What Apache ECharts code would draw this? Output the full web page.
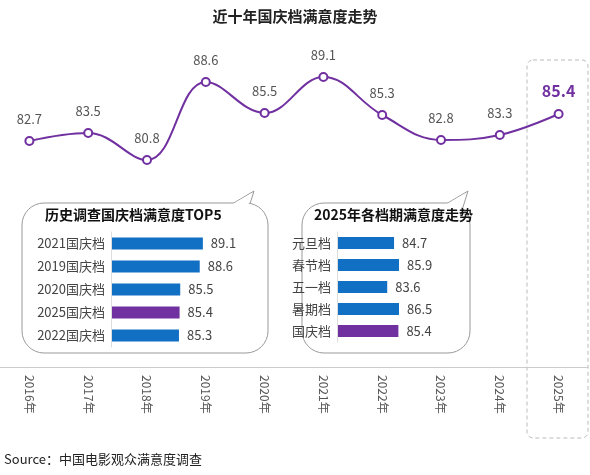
<!DOCTYPE html><html><head><meta charset="utf-8"><script src="https://cdn.jsdelivr.net/npm/echarts@6/dist/echarts.min.js"></script></head><body style="margin:0"><div id="c" style="width:590px;height:475px"></div><script>
const years=['2016年','2017年','2018年','2019年','2020年','2021年','2022年','2023年','2024年','2025年'];
const scores=[82.7,83.5,80.8,88.6,85.5,89.1,85.3,82.8,83.3,85.4];
const topCats=['2021国庆档','2019国庆档','2020国庆档','2025国庆档','2022国庆档'];
const topVals=[89.1,88.6,85.5,85.4,85.3];
const periodCats=['元旦档','春节档','五一档','暑期档','国庆档'];
const periodVals=[84.7,85.9,83.6,86.5,85.4];
const B='#1170c4',P='#7030a0';
const F='"Microsoft YaHei","Noto Sans CJK SC",sans-serif';
const ch=echarts.init(document.getElementById('c'));
function bubble(x,y,w,h,tx){return [
{type:'rect',shape:{x:x,y:y,width:w,height:h,r:22},style:{fill:'#fff',stroke:'#999',lineWidth:1},z:-8},
{type:'polygon',shape:{points:[[tx-14,y+1],[tx+8,y-12],[tx-2,y+20]]},style:{fill:'#fff',stroke:'#999'},z:-9},
{type:'polygon',shape:{points:[[tx-15,y+2],[tx+6,y-10],[tx-3,y+19],[tx-15,y+19]]},style:{fill:'#fff'},z:-7}];}
ch.setOption({
animation:false,
title:{text:'近十年国庆档满意度走势',left:'center',top:4,textStyle:{fontSize:15,fontWeight:'bold',color:'#222',fontFamily:F}},
graphic:[...bubble(22,203,246,150,246),...bubble(302,203,168,150,460),
{type:'rect',shape:{x:527,y:60,width:61,height:378,r:6},style:{fill:'none',stroke:'#bbb',lineDash:[4,3]},z:-10},
{type:'text',left:45,top:208,style:{text:'历史调查国庆档满意度TOP5',font:'bold 14px '+F,fill:'#111'},z:5},
{type:'text',left:314,top:208,style:{text:'2025年各档期满意度走势',font:'bold 14px '+F,fill:'#111'},z:5},
{type:'text',left:4,top:453,style:{text:'Source：中国电影观众满意度调查',font:'13px '+F,fill:'#222'}}],
grid:[{left:0,right:2,top:40,height:327},
{left:111,top:232,height:115,width:129},
{left:337,top:232,height:110,width:62}],
xAxis:[{type:'category',data:years,gridIndex:0,axisLine:{lineStyle:{color:'#ccc'}},axisTick:{show:false},axisLabel:{rotate:-90,color:'#555',fontSize:12,margin:8,fontFamily:F}},
{type:'value',gridIndex:1,min:74.5,max:95,show:false},
{type:'value',gridIndex:2,min:75.5,max:85.5,show:false}],
yAxis:[{type:'value',gridIndex:0,min:60.1,max:92.8,show:false},
{type:'category',gridIndex:1,z:10,data:topCats,inverse:true,axisLine:{lineStyle:{color:'#ddd'}},axisTick:{show:false},axisLabel:{color:'#444',fontSize:13,margin:6,fontFamily:F}},
{type:'category',gridIndex:2,z:10,data:periodCats,inverse:true,axisLine:{lineStyle:{color:'#ddd'}},axisTick:{show:false},axisLabel:{color:'#444',fontSize:13,margin:6,fontFamily:F}}],
series:[{type:'line',data:scores.map((v,i)=>i===9?{value:v,label:{fontSize:16,fontWeight:'bold',color:P}}:v),smooth:0.4,symbol:'circle',symbolSize:8,
itemStyle:{color:'#fff',borderColor:P,borderWidth:2},lineStyle:{color:P,width:2},
label:{show:true,position:'top',distance:10,color:'#555',fontSize:13,fontFamily:F}},
{type:'bar',xAxisIndex:1,yAxisIndex:1,data:topVals.map((v,i)=>({value:v,itemStyle:{color:i===3?P:B}})),barWidth:12,z:5,
label:{show:true,position:'right',distance:8,color:'#444',fontSize:13,fontFamily:F}},
{type:'bar',xAxisIndex:2,yAxisIndex:2,data:periodVals.map((v,i)=>({value:v,itemStyle:{color:i===4?P:B}})),barWidth:12,z:5,
label:{show:true,position:'right',distance:8,color:'#444',fontSize:13,fontFamily:F}}]
});
</script></body></html>
